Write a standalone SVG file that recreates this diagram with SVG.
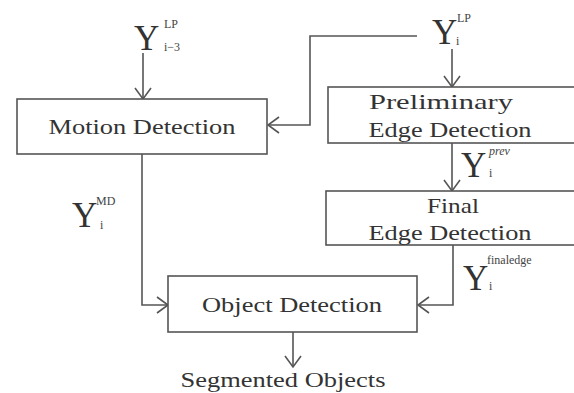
<svg xmlns="http://www.w3.org/2000/svg" width="574" height="393" viewBox="0 0 574 393">
<style>
.box{fill:#fff;stroke:#555;stroke-width:1.6}
.lbl{font-family:"Liberation Serif","Times New Roman",serif;font-size:22px;fill:#333;text-anchor:middle}
.Y{font-family:"Liberation Serif","Times New Roman",serif;font-size:35px;fill:#333}
.sup{font-family:"Liberation Serif","Times New Roman",serif;font-size:12px;fill:#444}
.conn{fill:none;stroke:#555;stroke-width:1.6}
</style>
<defs>
<marker id="arr" markerUnits="userSpaceOnUse" markerWidth="30" markerHeight="30" refX="0" refY="0" viewBox="-15 -15 30 30" orient="auto">
<path d="M-11,-8 L0,0 L-11,8" fill="none" stroke="#555" stroke-width="1.6"/>
</marker>
</defs>
<rect width="574" height="393" fill="#fff"/>
<g id="connectors">
<path class="conn" d="M143,53 V99" marker-end="url(#arr)"/>
<path class="conn" d="M417,36 H310 V125 H268" marker-end="url(#arr)"/>
<path class="conn" d="M452,49 V87" marker-end="url(#arr)"/>
<path class="conn" d="M452,143 V191" marker-end="url(#arr)"/>
<path class="conn" d="M453,245 V305 H418" marker-end="url(#arr)"/>
<path class="conn" d="M142,154 V305 H168" marker-end="url(#arr)"/>
<path class="conn" d="M293,332 V367" marker-end="url(#arr)"/>
</g>
<g id="motion">
<rect class="box" x="17" y="99" width="250" height="55"/>
<text class="lbl" x="142" y="134" textLength="187" lengthAdjust="spacingAndGlyphs">Motion Detection</text>
</g>
<g id="prelim">
<rect class="box" x="328" y="87" width="260" height="56"/>
<text class="lbl" x="441" y="109" textLength="144" lengthAdjust="spacingAndGlyphs">Preliminary</text>
<text class="lbl" x="450" y="137" textLength="163" lengthAdjust="spacingAndGlyphs">Edge Detection</text>
</g>
<g id="final">
<rect class="box" x="326" y="191" width="260" height="54"/>
<text class="lbl" x="453" y="213" textLength="52" lengthAdjust="spacingAndGlyphs">Final</text>
<text class="lbl" x="450" y="240" textLength="163" lengthAdjust="spacingAndGlyphs">Edge Detection</text>
</g>
<g id="object">
<rect class="box" x="168" y="276" width="249" height="56"/>
<text class="lbl" x="292" y="312" textLength="180" lengthAdjust="spacingAndGlyphs">Object Detection</text>
</g>
<g id="output">
<text class="lbl" x="283" y="387" textLength="205" lengthAdjust="spacingAndGlyphs">Segmented Objects</text>
</g>
<g id="label-lp-i3">
<text class="Y" x="134" y="50">Y</text>
<text class="sup" x="164" y="28">LP</text>
<text class="sup" x="164" y="51">i−3</text>
</g>
<g id="label-lp-i">
<text class="Y" x="432" y="44">Y</text>
<text class="sup" x="457" y="22">LP</text>
<text class="sup" x="456" y="45">i</text>
</g>
<g id="label-prev">
<text class="Y" x="461" y="177">Y</text>
<text class="sup" x="489" y="155" font-style="italic">prev</text>
<text class="sup" x="489" y="177">i</text>
</g>
<g id="label-finaledge">
<text class="Y" x="463" y="290">Y</text>
<text class="sup" x="487" y="264" font-size="10">finaledge</text>
<text class="sup" x="489" y="290">i</text>
</g>
<g id="label-md">
<text class="Y" x="72" y="227">Y</text>
<text class="sup" x="96" y="205">MD</text>
<text class="sup" x="100" y="229">i</text>
</g>
</svg>
